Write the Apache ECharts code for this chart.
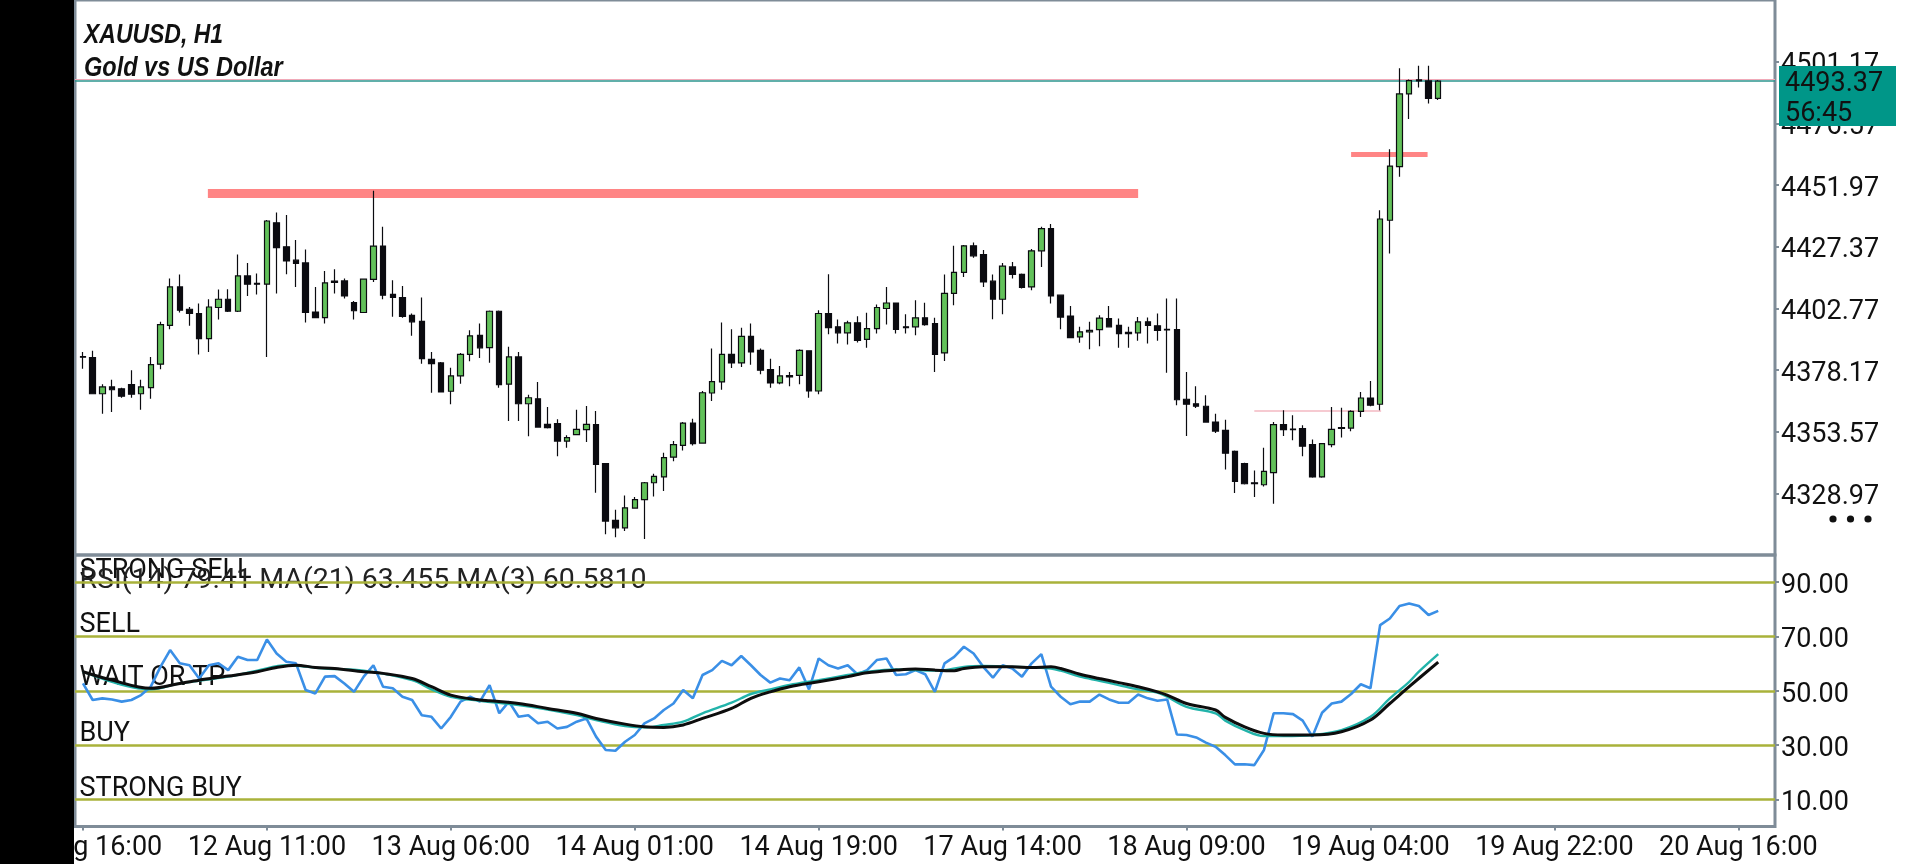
<!DOCTYPE html>
<html>
<head>
<meta charset="utf-8">
<script src="https://cdn.jsdelivr.net/npm/echarts@6/dist/echarts.min.js"></script>
<style>
html,body{margin:0;padding:0;background:#fff;}
#c{width:1920px;height:864px;}
</style>
</head>
<body>
<div id="c"></div>
<script>
// ---------- data ----------
const tickLabels = ['11 Aug 16:00','12 Aug 11:00','13 Aug 06:00','14 Aug 01:00','14 Aug 19:00',
  '17 Aug 14:00','18 Aug 09:00','19 Aug 04:00','19 Aug 22:00','20 Aug 16:00'];
const barsPerLabel = 19;

const opens = [4383.5,4383.1,4368.7,4371.4,4370.7,4372.3,4368.7,4371.1,4380.5,4396.0,
4411.3,4402.4,4400.7,4390.7,4403.1,4406.4,4401.6,4415.7,4412.7,4412.4,
4436.9,4427.3,4422.0,4420.9,4401.3,4399.1,4413.6,4413.7,4405.1,4401.1,
4414.3,4427.6,4408.3,4407.1,4400.0,4397.6,4382.4,4381.0,4369.7,4375.8,
4384.4,4392.0,4387.1,4401.6,4372.5,4383.4,4364.7,4366.7,4356.5,4356.8,
4349.8,4352.4,4354.4,4356.4,4340.8,4318.2,4315.2,4323.1,4326.5,4333.2,
4335.5,4343.4,4348.1,4357.0,4349.0,4369.0,4373.4,4384.4,4381.0,4391.6,
4386.0,4378.3,4373.0,4375.9,4376.0,4385.8,4369.8,4400.7,4395.4,4393.0,
4397.0,4390.4,4394.7,4402.7,4404.9,4395.4,4395.4,4399.0,4396.7,4385.0,
4408.7,4417.1,4427.7,4424.2,4413.6,4406.4,4419.3,4416.3,4411.3,4425.7,
4434.6,4408.0,4399.7,4391.4,4393.4,4394.3,4398.7,4396.0,4393.2,4393.0,
4397.4,4395.8,4394.4,4394.3,4366.5,4364.7,4363.7,4357.4,4354.1,4345.7,
4340.8,4333.2,4332.4,4337.2,4356.4,4354.6,4354.8,4348.4,4335.5,4348.4,
4355.2,4355.0,4361.7,4367.0,4364.5,4437.9,4459.3,4488.3,4493.9,4493.5,
4486.5];
const closes = [4383.3,4368.7,4371.4,4370.3,4367.7,4368.5,4371.4,4380.3,4396.3,4411.3,
4402.0,4400.7,4390.7,4403.3,4406.4,4401.6,4415.7,4412.4,4412.4,4437.6,
4427.0,4421.7,4420.7,4401.1,4399.1,4412.9,4413.1,4407.7,4401.8,4414.4,
4427.6,4408.0,4407.1,4399.6,4397.4,4382.7,4380.7,4369.4,4375.8,4384.4,
4391.8,4387.0,4401.6,4372.3,4383.4,4364.7,4367.1,4355.4,4355.2,4349.8,
4351.2,4354.5,4356.5,4340.5,4317.9,4315.2,4323.2,4326.5,4333.2,4335.7,
4343.2,4348.4,4357.0,4348.8,4369.1,4373.5,4384.4,4381.0,4391.6,4385.4,
4378.1,4373.0,4375.8,4375.4,4386.0,4369.8,4400.7,4395.1,4393.0,4397.0,
4390.0,4394.7,4403.1,4404.9,4394.4,4395.1,4399.0,4396.3,4384.4,4408.7,
4417.1,4427.7,4423.7,4413.3,4406.4,4419.6,4416.3,4411.1,4425.7,4434.6,
4407.7,4399.3,4391.1,4393.4,4394.0,4398.9,4395.4,4392.7,4392.7,4397.4,
4396.0,4394.0,4394.2,4366.3,4364.5,4363.7,4357.4,4353.8,4345.0,4333.7,
4332.8,4332.8,4337.7,4356.4,4354.4,4354.4,4347.8,4335.5,4348.8,4354.5,
4354.9,4361.7,4367.0,4364.1,4438.4,4459.5,4488.3,4493.6,4493.5,4486.5,
4493.37];
const lows = [4378.7,4368.5,4360.7,4361.4,4367.1,4367.1,4362.3,4366.7,4378.5,4394.4,
4401.1,4395.8,4384.4,4385.4,4398.3,4401.3,4401.3,4407.7,4408.3,4383.4,
4408.7,4416.4,4411.3,4397.1,4398.8,4396.7,4408.7,4406.7,4398.3,4401.0,
4413.3,4406.4,4399.4,4399.0,4391.8,4380.7,4369.1,4369.2,4364.5,4372.7,
4381.7,4383.0,4381.1,4371.1,4357.8,4357.8,4351.7,4355.2,4354.8,4343.8,
4347.2,4352.1,4349.4,4329.2,4312.6,4311.5,4313.9,4322.8,4310.8,4327.7,
4329.9,4341.8,4346.1,4348.1,4348.8,4365.8,4370.3,4379.0,4379.4,4380.3,
4376.5,4371.1,4372.5,4371.7,4372.5,4367.1,4368.5,4392.4,4388.7,4388.3,
4389.1,4387.0,4392.7,4396.3,4392.7,4392.7,4392.0,4395.8,4377.4,4381.8,
4404.0,4415.3,4422.9,4411.3,4398.4,4400.4,4414.7,4410.7,4410.0,4419.3,
4404.7,4394.4,4390.9,4389.0,4386.4,4387.6,4395.1,4387.0,4387.0,4389.8,
4388.7,4389.8,4377.1,4364.1,4351.8,4363.0,4357.2,4353.0,4338.5,4329.1,
4332.5,4327.5,4331.7,4324.8,4351.8,4350.1,4343.8,4335.2,4335.2,4347.4,
4351.2,4353.7,4359.4,4363.7,4362.1,4424.6,4455.3,4478.3,4490.9,4484.5,
4485.9];
const highs = [4385.4,4385.8,4372.5,4374.3,4371.1,4378.1,4374.3,4383.4,4397.4,4414.7,
4416.3,4403.3,4404.7,4406.4,4410.3,4410.4,4424.2,4420.9,4416.7,4438.0,
4441.0,4440.0,4430.0,4426.2,4411.3,4417.7,4418.4,4414.7,4405.7,4414.7,
4449.7,4435.3,4414.0,4411.7,4400.7,4407.1,4385.4,4381.4,4379.1,4385.0,
4394.0,4396.7,4401.9,4401.9,4387.4,4385.4,4368.3,4373.4,4363.4,4358.5,
4352.1,4362.3,4363.8,4361.8,4341.0,4322.4,4328.1,4327.5,4333.5,4336.8,
4345.2,4349.8,4357.4,4358.7,4369.8,4386.7,4397.1,4394.4,4395.0,4396.7,
4386.7,4382.7,4379.8,4377.4,4386.4,4386.0,4402.0,4416.4,4398.3,4397.8,
4399.6,4401.0,4404.3,4411.3,4405.1,4400.4,4406.0,4405.0,4399.0,4416.3,
4427.7,4428.0,4429.0,4426.0,4416.3,4420.9,4421.3,4416.7,4426.4,4435.3,
4436.4,4408.3,4403.7,4395.4,4397.4,4400.0,4403.7,4398.7,4395.4,4399.3,
4399.1,4400.7,4406.7,4406.7,4377.4,4371.7,4368.1,4360.7,4358.3,4346.1,
4341.2,4338.1,4347.2,4357.4,4362.1,4360.1,4356.1,4350.4,4349.0,4363.4,
4363.1,4362.1,4369.4,4373.8,4441.9,4466.2,4498.5,4494.1,4499.5,4499.5,
4493.9];

const rsi14 = [52.7,46.6,47.2,46.8,46.0,46.6,48.4,51.5,58.8,65.0,
60.1,59.4,54.5,59.4,60.1,57.6,62.5,61.3,61.3,68.9,
63.7,60.7,60.1,50.3,49.0,55.2,55.4,52.7,49.6,55.2,
59.4,51.5,50.9,47.8,46.6,41.0,40.4,36.1,40.4,46.0,
47.8,46.0,52.1,41.7,46.0,40.4,41.0,38.0,38.6,36.1,
36.7,38.6,39.8,33.1,28.2,27.9,31.2,33.7,38.0,39.8,
42.9,45.3,50.3,47.2,55.8,57.6,61.0,59.4,62.8,59.4,
55.8,53.0,54.5,53.9,58.6,50.5,61.9,59.4,58.2,59.4,
56.1,57.6,61.3,61.9,55.8,56.1,57.6,56.1,49.6,60.1,
62.5,66.2,63.7,58.8,54.8,59.4,58.2,55.2,60.1,63.5,
51.5,47.8,45.0,46.0,46.0,48.6,46.8,45.6,45.6,48.6,
47.2,46.3,46.8,33.9,33.7,32.8,30.9,29.4,26.3,22.9,
22.9,22.6,28.2,41.7,41.7,41.4,39.0,33.1,41.9,45.3,
46.0,48.8,52.4,50.9,74.2,76.6,81.2,82.1,81.2,77.9,
79.41];

// [bar, value] samples
const ma21 = [[0,57.0],[7,50.5],[10,52.7],[15,55.2],[18,57.4],[21,59.4],[25,58.2],[29,57.4],[34,53.9],[36,50.5],
[38,47.8],[41,46.3],[45,44.7],[48,43.1],[51,41.0],[53,39.2],[56,37.0],[58,36.5],[60,37.4],[62,38.6],
[64,41.7],[67,45.6],[69,48.8],[71,50.5],[73,52.1],[76,53.9],[79,55.8],[81,57.0],[84,57.8],[86,57.6],
[88,57.4],[89,57.6],[91,58.8],[93,59.1],[96,58.8],[98,58.6],[100,58.2],[101,57.4],[103,55.2],[105,53.7],
[107,52.1],[109,50.5],[111,49.3],[112,47.8],[114,44.1],[117,41.7],[118,39.0],[120,35.5],[122,33.3],[124,33.3],
[127,33.7],[130,35.5],[133,40.4],[135,47.2],[137,53.3],[138,57.0],[140,63.455]];
const ma3 = [[0,57.0],[3,53.9],[7,50.9],[10,52.7],[12,53.9],[15,55.4],[18,57.0],[20,58.6],[22,59.4],[24,58.6],
[26,58.2],[29,57.0],[31,56.4],[34,54.5],[36,51.5],[38,48.4],[41,46.6],[42,46.3],[45,45.3],[48,43.5],
[51,41.7],[53,39.8],[56,37.7],[58,36.7],[60,36.5],[62,37.4],[64,39.8],[67,43.5],[69,47.2],[71,49.6],
[73,51.5],[76,53.3],[79,55.2],[81,56.6],[84,57.6],[86,58.0],[88,57.6],[90,57.4],[91,58.2],[93,58.8],
[96,58.8],[98,58.6],[100,58.8],[101,58.2],[103,56.1],[105,54.5],[107,53.0],[109,51.5],[111,49.6],[112,48.4],
[114,45.3],[117,42.9],[118,40.2],[120,36.7],[122,34.3],[124,33.7],[127,33.7],[130,34.9],[133,39.2],[135,45.3],
[137,51.5],[140,60.581]];

const rsiLevels = [90, 70, 50, 30, 10];
const levelNames = ['STRONG SELL', 'SELL', 'WAIT OR TP', 'BUY', 'STRONG BUY'];

const priceMin = 4304.37, priceMax = 4525.77, priceStep = 24.6;
const bidPrice = 4493.37, askPrice = 4494.3;
const timer = '56:45';
const resistance = {from: 12.9, to: 109.0, price: 4448.5};
const breakLevel = {from: 131.0, to: 138.9, price: 4464.3};
const thinLevel = {from: 121.0, to: 134.1, price: 4362.1};
const rsiHeader = 'RSI(14) 79.41 MA(21) 63.455 MA(3) 60.5810';
const titleLines = ['XAUUSD, H1', 'Gold vs US Dollar'];

// ---------- chart ----------
const FONT = 'Roboto, "Noto Sans", sans-serif';
const TITLE_FONT = '"Liberation Sans", Arial, sans-serif';
const BORDER = '#7f8c98';
const X_MIN = -0.826, X_MAX = 174.79;
const labelIdx = tickLabels.map((_, k) => k * barsPerLabel);

const candleData = opens.map((o, i) => [i, o, closes[i], lows[i], highs[i]]);
const rsiData = rsi14.map((v, i) => [i, v]);

const chart = echarts.init(document.getElementById('c'), null, {renderer: 'canvas'});

const axisLabelBase = {color: '#111', fontSize: 27, fontFamily: FONT};
const txt = (text, x, y, size, fill, z) => ({
  type: 'text', x: x, y: y, z: z || 0,
  style: {text: text, fill: fill || '#111', fontSize: size, fontFamily: FONT, verticalAlign: 'middle', textVerticalAlign: 'middle'}
});

const option = {
  animation: false,
  backgroundColor: '#ffffff',
  grid: [
    {left: 75, width: 1700, top: 0, height: 555, show: true, borderColor: BORDER, borderWidth: 3, backgroundColor: 'transparent'},
    {left: 75, width: 1700, top: 555, height: 271.5, show: true, borderColor: BORDER, borderWidth: 3, backgroundColor: 'transparent'}
  ],
  xAxis: [
    {type: 'value', gridIndex: 0, min: X_MIN, max: X_MAX, show: false, axisLine: {onZero: false}},
    {type: 'value', gridIndex: 1, min: X_MIN, max: X_MAX,
      axisLine: {show: false, onZero: false}, splitLine: {show: false},
      axisTick: {show: true, length: 4, customValues: labelIdx, lineStyle: {color: BORDER, width: 2}},
      axisLabel: Object.assign({}, axisLabelBase, {
        customValues: labelIdx, margin: 8,
        formatter: v => { const k = Math.round(v / barsPerLabel); return tickLabels[k] || ''; }
      })
    }
  ],
  yAxis: [
    {type: 'value', gridIndex: 0, position: 'right', min: priceMin, max: priceMax, interval: priceStep,
      axisLine: {show: false, onZero: false}, splitLine: {show: false},
      axisTick: {show: true, length: 4, lineStyle: {color: BORDER, width: 2}},
      axisLabel: Object.assign({}, axisLabelBase, {
        margin: 6, showMinLabel: false, showMaxLabel: false,
        verticalAlign: 'top', lineHeight: 8,
        formatter: v => v.toFixed(2)
      })
    },
    {type: 'value', gridIndex: 1, position: 'right', min: 0, max: 100,
      axisLine: {show: false, onZero: false}, splitLine: {show: false},
      axisTick: {show: true, length: 4, customValues: rsiLevels, lineStyle: {color: BORDER, width: 2}},
      axisLabel: Object.assign({}, axisLabelBase, {
        margin: 6, customValues: rsiLevels,
        verticalAlign: 'top', lineHeight: 8,
        formatter: v => v.toFixed(2)
      })
    }
  ],
  series: [
    {
      type: 'candlestick', name: 'XAUUSD',
      xAxisIndex: 0, yAxisIndex: 0,
      data: candleData,
      barWidth: 6,
      itemStyle: {color: '#62c15a', color0: '#0b0b10', borderColor: '#0b0b10', borderColor0: '#0b0b10', borderWidth: 1.2},
      z: 2,
      markLine: {
        silent: true, z: 1, animation: false,
        symbol: ['none', 'none'],
        label: {show: false},
        data: [
          [{coord: [resistance.from, resistance.price], lineStyle: {color: '#ff8585', width: 9, type: 'solid', cap: 'butt'}},
           {coord: [resistance.to, resistance.price]}],
          [{coord: [breakLevel.from, breakLevel.price], lineStyle: {color: '#ff8585', width: 5, type: 'solid', cap: 'butt'}},
           {coord: [breakLevel.to, breakLevel.price]}],
          [{coord: [thinLevel.from, thinLevel.price], lineStyle: {color: '#f3b9c2', width: 1.5, type: 'solid'}},
           {coord: [thinLevel.to, thinLevel.price]}],
          {yAxis: askPrice, lineStyle: {color: '#f0a9b8', width: 1, type: 'solid'}},
          {yAxis: bidPrice, lineStyle: {color: '#2c948e', width: 1.6, type: 'solid'}}
        ]
      }
    },
    {
      type: 'line', name: 'RSI(14)',
      xAxisIndex: 1, yAxisIndex: 1,
      data: rsiData, showSymbol: false, symbol: 'none',
      lineStyle: {color: '#3a8fe6', width: 2.6},
      z: 2,
      markLine: {
        silent: true, z: 1, animation: false,
        symbol: ['none', 'none'],
        label: {show: false},
        lineStyle: {color: '#a9b23a', width: 2.5, type: 'solid'},
        data: rsiLevels.map(v => ({yAxis: v}))
      }
    },
    {
      type: 'line', name: 'MA(21)',
      xAxisIndex: 1, yAxisIndex: 1,
      data: ma21, showSymbol: false, symbol: 'none', smooth: 0.35,
      lineStyle: {color: '#22b3aa', width: 2.4}, z: 3
    },
    {
      type: 'line', name: 'MA(3)',
      xAxisIndex: 1, yAxisIndex: 1,
      data: ma3, showSymbol: false, symbol: 'none', smooth: 0.35,
      lineStyle: {color: '#0d0d0d', width: 3}, z: 4
    }
  ],
  graphic: [
    // titles (narrow italic look via horizontal scale)
    {type: 'text', x: 84, y: 35, z: 0, scaleX: 0.82,
      style: {text: titleLines[0], fill: '#111', fontSize: 28, fontStyle: 'italic', fontWeight: 'bold', fontFamily: TITLE_FONT, verticalAlign: 'middle', textVerticalAlign: 'middle'}},
    {type: 'text', x: 84, y: 68.5, z: 0, scaleX: 0.84,
      style: {text: titleLines[1], fill: '#111', fontSize: 28, fontStyle: 'italic', fontWeight: 'bold', fontFamily: TITLE_FONT, verticalAlign: 'middle', textVerticalAlign: 'middle'}},
    // RSI panel texts
    txt(levelNames[0], 79.5, 571.5, 27),
    txt(rsiHeader, 79.5, 581, 28.5, '#222'),
    txt(levelNames[1], 79.5, 625, 27),
    txt(levelNames[2], 79.5, 678.5, 27),
    txt(levelNames[3], 79.5, 734.5, 27),
    txt(levelNames[4], 79.5, 789, 27),
    // left black strip
    {type: 'rect', z: 100, shape: {x: 0, y: 0, width: 74, height: 864}, style: {fill: '#000'}},
    // current price box
    {type: 'rect', z: 100, shape: {x: 1779, y: 66, width: 117, height: 60}, style: {fill: '#009688'}},
    txt(bidPrice.toFixed(2), 1785, 84.7, 27, '#111', 101),
    txt(timer, 1785, 114.7, 27, '#111', 101),
    // menu dots
    {type: 'circle', z: 100, shape: {cx: 1833, cy: 519, r: 3.6}, style: {fill: '#111'}},
    {type: 'circle', z: 100, shape: {cx: 1850.5, cy: 519, r: 3.6}, style: {fill: '#111'}},
    {type: 'circle', z: 100, shape: {cx: 1868, cy: 519, r: 3.6}, style: {fill: '#111'}}
  ]
};

chart.setOption(option);
</script>
</body>
</html>
